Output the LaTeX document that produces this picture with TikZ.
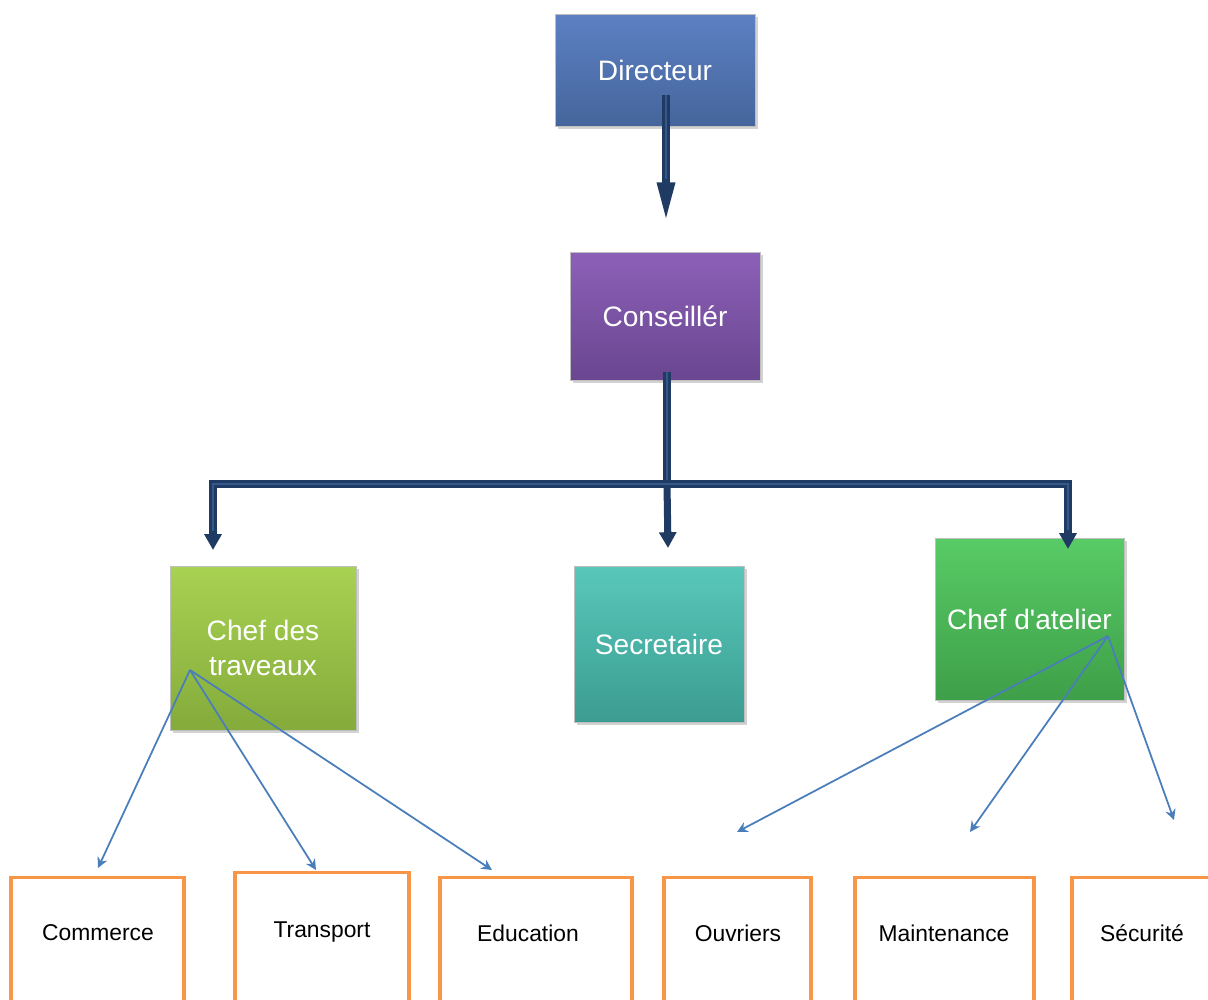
\documentclass[tikz,border=0pt]{standalone}
\usepackage{fontspec}
\setmainfont{Liberation Sans}[Ligatures=TeXOff]
\usetikzlibrary{arrows.meta,shadows,calc}
\definecolor{navy}{HTML}{1F3B63}
\definecolor{navyhi}{HTML}{35588A}
\definecolor{thinblue}{HTML}{4A7EBB}
\definecolor{orangeb}{HTML}{F79646}
\definecolor{dirTop}{HTML}{5C80C2}
\definecolor{dirBot}{HTML}{45659C}
\definecolor{conTop}{HTML}{8C60B8}
\definecolor{conBot}{HTML}{6A4690}
\definecolor{cdtTop}{HTML}{A8D252}
\definecolor{cdtBot}{HTML}{84AB3B}
\definecolor{secTop}{HTML}{58C8BA}
\definecolor{secBot}{HTML}{3C9C92}
\definecolor{catTop}{HTML}{58CB66}
\definecolor{catBot}{HTML}{3E9F48}
\tikzset{
  cbox/.style={rectangle, draw=black!25, line width=0.4pt, text=white,
    font=\fontsize{16}{19}\selectfont, align=center, inner sep=2pt,
    drop shadow={opacity=0.35, shadow xshift=0.06cm, shadow yshift=-0.06cm}},
  navyline/.style={draw=navy, line width=4pt, line join=miter},
  navyinner/.style={draw=navyhi, line width=0.8pt},
  thinarrow/.style={draw=thinblue, line width=1pt, -{Stealth[length=6pt,width=6pt]}},
  obox/.style={rectangle, draw=orangeb, line width=1.8pt, anchor=north, minimum height=4cm},
  otext/.style={font=\fontsize{13}{15}\selectfont, text=black}
}
\begin{document}
\begin{tikzpicture}[x=0.02cm,y=-0.02cm]
\clip (0,0) rectangle (1208,1000);
\fill[white] (0,0) rectangle (1208,1000);

% main boxes
\node[cbox, minimum width=4cm, minimum height=2.24cm, top color=dirTop, bottom color=dirBot] (dir) at (655,70) {Directeur};
\node[cbox, minimum width=3.8cm, minimum height=2.56cm, top color=conTop, bottom color=conBot] (con) at (665,316) {Conseillér};
\node[cbox, minimum width=3.72cm, minimum height=3.28cm, top color=cdtTop, bottom color=cdtBot] (cdt) at (263,648) {Chef des\\[1pt]traveaux};
\node[cbox, minimum width=3.4cm, minimum height=3.12cm, top color=secTop, bottom color=secBot] (sec) at (659,644) {Secretaire};
\node[cbox, minimum width=3.78cm, minimum height=3.24cm, top color=catTop, bottom color=catBot] (cat) at (1029.5,619) {Chef d'atelier};

% bottom boxes
\node[obox, minimum width=3.46cm] (bcom) at (97.5,876) {};
\node[obox, minimum width=3.48cm] (btra) at (322,871) {};
\node[obox, minimum width=3.84cm] (bedu) at (536,876) {};
\node[obox, minimum width=2.94cm] (bouv) at (737.5,876) {};
\node[obox, minimum width=3.58cm] (bmai) at (944.5,876) {};
\node[obox, minimum width=3.2cm] (bsec) at (1152,876) {};
\node[otext] (tcom) at (98,933) {Commerce};
\node[otext] (ttra) at (322,932) {Transport};
\node[otext] (tedu) at (528,933) {Education};
\node[otext] (touv) at (738,933) {Ouvriers};
\node[otext] (tmai) at (944,933) {Maintenance};
\node[otext] (tsec) at (1142,933) {Sécurité};

% navy connectors
\coordinate (d1) at ($(dir.center)+(11,25)$);
\coordinate (d2) at (666,221);
\coordinate (c1) at (667,372);
\coordinate (hm) at (667,484);
\coordinate (hl) at (213,484);
\coordinate (hr) at (1068,484);
\coordinate (al) at (213,550);
\coordinate (am) at (668,548);
\coordinate (ar) at (1068,549);

\draw[navyline, -{Triangle[width=9.5pt,length=22pt]}] (d1) -- (d2);
\draw[navyinner, shorten >=24pt] (d1) -- (d2);
\draw[navyline] (c1) -- (hm);
\draw[navyline, {Triangle[width=9.5pt,length=9pt]}-{Triangle[width=9.5pt,length=9pt]}] (al) -- (hl) -- (hr) -- (ar);
\draw[navyline, -{Triangle[width=9.5pt,length=9pt]}] (hm) -- (am);
\draw[navyinner, shorten >=2pt] (c1) -- (hm);
\draw[navyinner, shorten <=11pt, shorten >=11pt] (al) -- (hl) -- (hr) -- (ar);

% thin arrows
\coordinate (s1) at (190,670);
\coordinate (e1) at (98,868);
\coordinate (e2) at (316,870);
\coordinate (e3) at (492,870);
\coordinate (s2) at (1108,636);
\coordinate (e4) at (737,832);
\coordinate (e5) at (970,832);
\coordinate (e6) at (1174,820);
\draw[thinarrow] (s1) -- (e1);
\draw[thinarrow] (s1) -- (e2);
\draw[thinarrow] (s1) -- (e3);
\draw[thinarrow] (s2) -- (e4);
\draw[thinarrow] (s2) -- (e5);
\draw[thinarrow] (s2) -- (e6);
\end{tikzpicture}
\end{document}
